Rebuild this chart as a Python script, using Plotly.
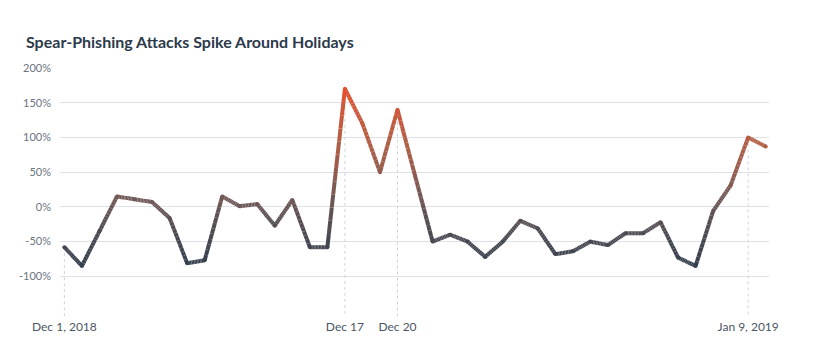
import numpy as np
import pandas as pd
import plotly.graph_objects as go
from plotly.colors import sample_colorscale

# ---- data ----
start_date = "2018-12-01"
n_days = 41
values = [-58, -85, -35, 15, 11, 7, -16, -81, -77, 15,
          1, 4, -27, 10, -58, -58, 170, 120, 50, 140,
          45, -50, -40, -50, -72, -50, -20, -31, -68, -64,
          -50, -55, -38, -38, -22, -73, -85, -6, 31, 100,
          87]
dates = pd.date_range(start_date, periods=n_days, freq="D")
marked_dates = ["2018-12-01", "2018-12-17", "2018-12-20", "2019-01-09"]
marked_labels = ["Dec 1, 2018", "Dec 17", "Dec 20", "Jan 9, 2019"]
ytick_vals = [-100, -50, 0, 50, 100, 150, 200]
ytick_text = ["-100%", "-50%", "0%", "50%", "100%", "150%", "200%"]

# ---- style ----
grad_stops = [(-90, "#323e4d"), (-40, "#4a4a52"), (15, "#735956"), (60, "#9c5d4c"),
              (100, "#b65f45"), (140, "#d0573a"), (175, "#ea4d2c")]
vmin, vmax = grad_stops[0][0], grad_stops[-1][0]
cscale = [[(v - vmin) / (vmax - vmin), c] for v, c in grad_stops]
LW = 4.0

def color_for(v):
    t = min(max((v - vmin) / (vmax - vmin), 0), 1)
    return sample_colorscale(cscale, [t])[0]

# gradient line: split each segment into sub-pieces, grouped by colour bin
NB = 48
N_SUB = 12
bins = {}
for i in range(len(values) - 1):
    x0, x1 = dates[i], dates[i + 1]
    y0, y1 = values[i], values[i + 1]
    for k in range(N_SUB):
        ta, tb = k / N_SUB, (k + 1) / N_SUB
        ya, yb = y0 + (y1 - y0) * ta, y0 + (y1 - y0) * tb
        xa, xb = x0 + (x1 - x0) * ta, x0 + (x1 - x0) * tb
        t = min(max(((ya + yb) / 2 - vmin) / (vmax - vmin), 0), 1)
        b = int(round(t * (NB - 1)))
        bx, by = bins.setdefault(b, ([], []))
        bx += [xa, xb, None]
        by += [ya, yb, None]

fig = go.Figure()
# dashed markers
for d in marked_dates:
    idx = list(dates).index(pd.Timestamp(d))
    fig.add_trace(go.Scatter(x=[dates[idx], dates[idx]], y=[values[idx], -158],
                             mode="lines", line=dict(color="#cfd4dc", width=1, dash="3px,3px"),
                             hoverinfo="skip", showlegend=False))
for b, (bx, by) in sorted(bins.items()):
    col = sample_colorscale(cscale, [b / (NB - 1)])[0]
    fig.add_trace(go.Scatter(x=bx, y=by, mode="lines",
                             line=dict(color=col, width=LW),
                             hoverinfo="skip", showlegend=False))
fig.add_trace(go.Scatter(x=dates, y=values, mode="markers",
                         marker=dict(size=LW, color=[color_for(v) for v in values], line=dict(width=0)),
                         showlegend=False))

x_lo = dates[0] - pd.Timedelta(hours=6)
x_hi = dates[-1] + pd.Timedelta(hours=4.5)

fig.update_layout(
    width=819, height=353,
    margin=dict(l=60, r=50, t=68, b=35),
    paper_bgcolor="white", plot_bgcolor="white",
    font=dict(family="Lato", color="#4a5563"),
    title=dict(text="<b>Spear-Phishing Attacks Spike Around Holidays</b>",
               x=26 / 819, xref="container", xanchor="left",
               y=1 - 42 / 353, yref="container", yanchor="middle",
               font=dict(size=16, color="#2c3a4b", family="Lato")),
    xaxis=dict(range=[x_lo, x_hi], showgrid=False, zeroline=False, showline=False,
               tickvals=pd.to_datetime(marked_dates), ticktext=marked_labels,
               ticks="", tickfont=dict(size=12, color="#4a5563")),
    yaxis=dict(range=[-160, 200], tickvals=ytick_vals, ticktext=ytick_text,
               showgrid=True, gridcolor="#dde1e8", gridwidth=1, zeroline=False,
               showline=False, ticks="", ticklabelstandoff=8,
               tickfont=dict(size=11, color="#6b7380")),
    showlegend=False,
)

fig.write_html("out.html")
